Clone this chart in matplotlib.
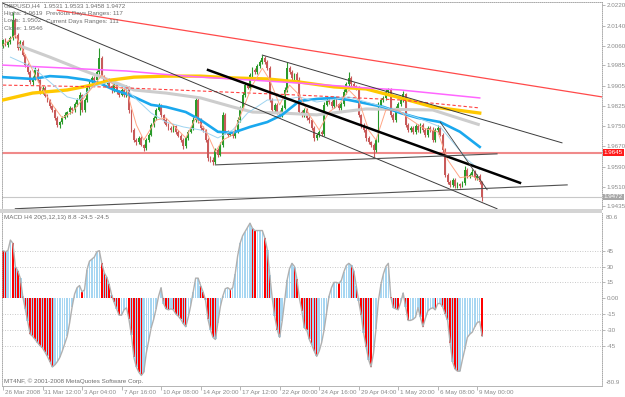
import matplotlib
matplotlib.use('Agg')
import matplotlib.pyplot as plt
import numpy as np
from matplotlib.transforms import blended_transform_factory as btf
from matplotlib.patches import Rectangle

plt.rcParams['font.family'] = ['Liberation Sans', 'DejaVu Sans']

W, H = 625, 397

# ---------------- price data (H4 bars) ----------------
first_open = 2.0060
closes = [
    2.0083, 2.0064, 2.0076, 2.0091, 2.0161, 2.0103, 2.0052, 2.0076, 2.0025, 1.9986,
    1.9959, 1.9920, 1.9936, 1.9967, 1.9928, 1.9881, 1.9897, 1.9866, 1.9850, 1.9827,
    1.9811, 1.9780, 1.9753, 1.9764, 1.9780, 1.9792, 1.9803, 1.9819, 1.9811, 1.9834,
    1.9850, 1.9869, 1.9811, 1.9850, 1.9897, 1.9920, 1.9936, 1.9928, 1.9959, 2.0013,
    1.9943, 1.9920, 1.9928, 1.9904, 1.9889, 1.9912, 1.9881, 1.9869, 1.9889, 1.9869,
    1.9897, 1.9811, 1.9733, 1.9694, 1.9687, 1.9702, 1.9675, 1.9663, 1.9694, 1.9714,
    1.9753, 1.9780, 1.9811, 1.9827, 1.9792, 1.9772, 1.9753, 1.9741, 1.9733, 1.9749,
    1.9726, 1.9710, 1.9694, 1.9671, 1.9702, 1.9726, 1.9741, 1.9772, 1.9850, 1.9772,
    1.9741, 1.9733, 1.9694, 1.9624, 1.9617, 1.9609, 1.9656, 1.9636, 1.9675, 1.9792,
    1.9726, 1.9714, 1.9722, 1.9710, 1.9726, 1.9772, 1.9819, 1.9869, 1.9908, 1.9897,
    1.9947, 1.9967, 1.9959, 1.9982, 1.9998, 2.0013, 1.9998, 1.9974, 1.9850, 1.9811,
    1.9831, 1.9803, 1.9792, 1.9819, 1.9889, 1.9974, 1.9959, 1.9936, 1.9951, 1.9928,
    1.9803, 1.9792, 1.9811, 1.9780, 1.9772, 1.9741, 1.9702, 1.9714, 1.9726, 1.9718,
    1.9831, 1.9850, 1.9842, 1.9827, 1.9850, 1.9834, 1.9819, 1.9834, 1.9881, 1.9912,
    1.9936, 1.9912, 1.9904, 1.9897, 1.9792, 1.9753, 1.9733, 1.9702, 1.9687, 1.9675,
    1.9656, 1.9694, 1.9831, 1.9850, 1.9858, 1.9881, 1.9889, 1.9792, 1.9772, 1.9819,
    1.9834, 1.9850, 1.9873, 1.9753, 1.9733, 1.9741, 1.9726, 1.9749, 1.9733, 1.9753,
    1.9733, 1.9714, 1.9741, 1.9733, 1.9694, 1.9733, 1.9741, 1.9714, 1.9656, 1.9558,
    1.9531, 1.9519, 1.9539, 1.9515, 1.9523, 1.9515, 1.9527, 1.9578, 1.9554, 1.9558,
    1.9570, 1.9547, 1.9554, 1.9531, 1.9472,
]
# wick lengths in pips above the body top / below the body bottom
wick_up = [
    6, 8, 5, 10, 31, 7, 9, 6, 8, 5, 7, 9, 6, 10, 8, 5, 9, 6, 7, 5,
    8, 6, 9, 5, 7, 10, 6, 8, 5, 9, 7, 12, 6, 8, 10, 7, 9, 6, 8, 39,
    8, 6, 9, 7, 5, 10, 6, 8, 7, 9, 12, 6, 5, 8, 7, 9, 6, 5, 8, 7,
    9, 6, 8, 10, 7, 5, 8, 6, 9, 7, 5, 8, 6, 9, 7, 8, 6, 10, 12, 7,
    6, 8, 5, 7, 6, 9, 8, 6, 10, 12, 7, 6, 8, 5, 9, 10, 8, 12, 9, 7,
    8, 10, 6, 9, 7, 12, 8, 6, 10, 7, 9, 6, 8, 10, 12, 24, 7, 9, 6, 8,
    10, 7, 9, 6, 8, 5, 7, 9, 6, 8, 12, 8, 6, 9, 7, 8, 6, 9, 10, 8,
    23, 7, 9, 6, 8, 5, 7, 6, 8, 5, 6, 9, 12, 8, 7, 10, 9, 8, 6, 9,
    7, 10, 12, 6, 8, 7, 9, 6, 8, 7, 9, 6, 8, 7, 10, 9, 12, 7, 6, 8,
    7, 9, 6, 8, 7, 5, 9, 14, 8, 7, 9, 6, 8, 7, 2,
]
wick_dn = [
    7, 5, 9, 6, 8, 10, 6, 8, 5, 9, 7, 6, 10, 8, 6, 9, 7, 5, 8, 10,
    6, 9, 7, 12, 8, 6, 9, 7, 10, 6, 8, 58, 7, 9, 6, 8, 5, 9, 7, 6,
    9, 7, 6, 8, 10, 6, 9, 7, 5, 8, 6, 10, 9, 7, 12, 8, 6, 10, 7, 8,
    6, 9, 7, 5, 8, 10, 6, 9, 7, 8, 10, 6, 9, 14, 7, 8, 6, 9, 7, 10,
    8, 6, 9, 10, 7, 12, 9, 8, 6, 10, 7, 9, 6, 8, 7, 6, 9, 7, 8, 6,
    7, 9, 6, 8, 7, 6, 9, 8, 7, 10, 6, 9, 8, 7, 6, 8, 9, 7, 10, 6,
    8, 10, 7, 9, 12, 8, 10, 7, 9, 8, 10, 6, 9, 7, 8, 6, 9, 7, 8, 6,
    7, 9, 6, 10, 8, 12, 9, 10, 8, 9, 28, 8, 7, 9, 6, 8, 7, 10, 9, 6,
    8, 7, 6, 10, 9, 7, 8, 9, 6, 10, 8, 7, 9, 6, 8, 7, 9, 6, 10, 9,
    10, 8, 9, 7, 8, 9, 6, 8, 7, 9, 6, 8, 7, 10, 14,
]

# ---------------- MACD histogram ----------------
macd = [
    45, 44, 45, 55, 52, 30, 26, 19, 2, -10,
    -22, -34, -36, -39, -42, -45, -47, -51, -55, -60,
    -65, -63, -60, -56, -50, -43, -36, -23, -8, 4,
    10, 12, 6, 8, 27, 35, 37, 39, 44, 45,
    33, 24, 20, 13, 3, -4, -10, -16, -16, -11,
    -9, -20, -35, -56, -65, -70, -73, -70, -52, -40,
    -28, -20, -10, 2, 10, -5, -10, -11, -10, -11,
    -15, -17, -20, -24, -27, -18, -7, 6, 19, 19,
    12, 6, -2, -20, -30, -37, -39, -23, -8, 2,
    9, 10, 8, 10, 23, 40, 52, 59, 63, 67,
    71, 66, 64, 64, 64, 64, 57, 46, 22, 0,
    -17, -30, -37, -22, -3, 17, 28, 33, 30, 18,
    0, -12, -28, -30, -39, -44, -50, -55, -50, -42,
    -30, -14, 2, 10, 15, 15, 14, 17, 25, 31,
    33, 31, 26, 12, -3, -16, -33, -46, -58, -65,
    -52, -29, -2, 13, 23, 30, 33, 1, -9, -10,
    -11, -4, 5, -8, -21, -21, -20, -18, -9, -18,
    -27, -19, -12, -10, -9, -11, -5, -5, -8, -15,
    -21, -42, -60, -67, -69, -69, -58, -48, -37, -34,
    -32, -27, -23, -22, -36,
]

# ---------------- moving averages (vertices: bar index, price) ----------------
salmon_x = [0, 5, 10, 15, 20, 24, 28, 32, 36, 40, 45, 50, 54, 57, 62, 66, 70, 74, 78, 82,
            86, 89, 93, 97, 101, 105, 108, 112, 116, 120, 124, 128, 132, 136, 140, 144,
            148, 151, 155, 160, 164, 170, 176, 180, 185, 190, 194]
salmon_y = [2.0064, 2.0103, 2.0006, 1.9908, 1.9831, 1.9780, 1.9803, 1.9850, 1.9897, 1.9947,
            1.9908, 1.9889, 1.9753, 1.9694, 1.9772, 1.9780, 1.9741, 1.9702, 1.9780, 1.9733,
            1.9648, 1.9694, 1.9714, 1.9811, 1.9908, 1.9974, 1.9928, 1.9831, 1.9908, 1.9869,
            1.9792, 1.9733, 1.9803, 1.9831, 1.9889, 1.9850, 1.9733, 1.9694, 1.9811, 1.9811,
            1.9780, 1.9741, 1.9726, 1.9617, 1.9547, 1.9554, 1.9531]
ltblue_x = [3, 12, 19, 26, 31, 36, 43, 49, 53, 60, 66, 73, 80, 87, 93, 99, 107, 113, 120,
            127, 140, 154, 168, 177, 188, 193]
ltblue_y = [2.0017, 1.9978, 1.9920, 1.9862, 1.9850, 1.9901, 1.9920, 1.9901, 1.9862, 1.9799,
            1.9764, 1.9745, 1.9733, 1.9702, 1.9733, 1.9799, 1.9850, 1.9850, 1.9862, 1.9842,
            1.9862, 1.9823, 1.9780, 1.9745, 1.9617, 1.9578]
blue_x = [0, 12, 19, 26, 34, 39, 45, 49, 53, 60, 66, 74, 80, 87, 93, 100, 107, 113, 120,
          127, 134, 140, 154, 161, 168, 177, 185, 193]
blue_y = [1.9939, 1.9932, 1.9943, 1.9939, 1.9928, 1.9916, 1.9889, 1.9877, 1.9862, 1.9831,
          1.9823, 1.9803, 1.9772, 1.9726, 1.9722, 1.9745, 1.9764, 1.9792, 1.9846, 1.9854,
          1.9858, 1.9850, 1.9823, 1.9799, 1.9780, 1.9764, 1.9726, 1.9667]
grey_x = [6, 19, 32, 43, 53, 66, 80, 93, 101, 113, 127, 147, 174, 193]
grey_y = [2.0064, 2.0017, 1.9967, 1.9928, 1.9889, 1.9877, 1.9858, 1.9823, 1.9803, 1.9799,
          1.9792, 1.9815, 1.9811, 1.9753]
yellow_x = [0, 12, 26, 36, 44, 53, 66, 80, 93, 107, 120, 134, 147, 161, 174, 193]
yellow_y = [1.9850, 1.9877, 1.9889, 1.9908, 1.9928, 1.9939, 1.9943, 1.9943, 1.9936, 1.9932,
            1.9920, 1.9901, 1.9893, 1.9858, 1.9823, 1.9799]
magenta_x = [0, 50, 64, 80, 93, 120, 147, 161, 193]
magenta_y = [1.9986, 1.9963, 1.9951, 1.9939, 1.9932, 1.9916, 1.9897, 1.9889, 1.9858]
reddash_x = [0, 40, 80, 120, 161, 193]
reddash_y = [1.9908, 1.9901, 1.9885, 1.9869, 1.9850, 1.9819]

# ---------------- drawn trend lines (start bar, start price, end bar, end price) ----------
red_trend = (22, 2.0200, 242.5, 1.9862)
long_trend = (0, 2.0227, 200, 1.9426)
upper_channel = (105, 2.0025, 226.3, 1.9683)
black_trend = (83, 1.9967, 209.3, 1.9527)
support_1 = (86, 1.9597, 200, 1.9640)
support_2 = (5, 1.9426, 228.4, 1.9519)
steep_trend = (177, 1.9764, 196, 1.9500)
level_red = 1.9645
last_price = 1.9472

price_ticks = [2.0220, 2.0140, 2.0060, 1.9985, 1.9905, 1.9825, 1.9750, 1.9670, 1.9590,
               1.9510, 1.9435]
macd_ticks = [45, 30, 15, 0, -15, -30, -45]
macd_tick_labels = ['45', '30', '15', '0.00', '-15', '-30', '-45']
date_bars = [0, 16, 32, 48, 64, 80, 96, 112, 128, 144, 160, 176, 192]
date_labels = ['26 Mar 2008', '31 Mar 12:00', '3 Apr 04:00', '7 Apr 16:00', '10 Apr 08:00',
               '14 Apr 20:00', '17 Apr 12:00', '22 Apr 00:00', '24 Apr 16:00', '29 Apr 04:00',
               '1 May 20:00', '6 May 08:00', '9 May 00:00']

header_lines = ['GBPUSD,H4  1.9531 1.9533 1.9458 1.9472', 'Highs: 1.9619', 'Lows: 1.9502',
                'Close: 1.9546']
range_lines = ['Previous Days Ranges: 117', 'Current Days Ranges: 111']

# ======================= drawing =======================
fig = plt.figure(figsize=(W / 100, H / 100), dpi=100)
fig.patch.set_facecolor('white')

XL = (-0.4, 242.5)
TXT = '#6e6e6e'
FS = 4.5

ax1 = fig.add_axes([2 / W, 1 - 209 / H, 600 / W, 207 / H])
ax1.set_xlim(*XL)
ax1.set_ylim(1.9425, 2.0232)

n = len(closes)
idx = np.arange(n)
c = np.array(closes)
o = np.concatenate([[first_open], c[:-1]])
hi = np.maximum(o, c) + np.array(wick_up) * 1e-4
lo = np.minimum(o, c) - np.array(wick_dn) * 1e-4
up = c >= o
cols = np.where(up, '#2a9a2a', '#c85a5a')
ax1.vlines(idx, lo, hi, colors=cols, lw=0.8, zorder=2)
ax1.bar(idx, np.abs(c - o) + 2e-5, bottom=np.minimum(o, c), width=0.75, color=cols,
        lw=0, zorder=3)

# horizontal level lines
ax1.axhline(level_red, color='#f08a8a', lw=1.5, zorder=1)
ax1.axhline(last_price, color='#c8c8c8', lw=0.8, zorder=1)

# moving averages
ax1.plot(grey_x, grey_y, color='#cdcdcd', lw=2.2, zorder=4, solid_capstyle='butt')
ax1.plot(blue_x, blue_y, color='#1aa8ee', lw=1.9, zorder=4)
ax1.plot(yellow_x, yellow_y, color='#ffc800', lw=2.4, zorder=4)
ax1.plot(magenta_x, magenta_y, color='#ff66ff', lw=1.1, zorder=4)
ax1.plot(reddash_x, reddash_y, color='#ff4040', lw=0.8, dashes=(3, 2), zorder=4)
ax1.plot(ltblue_x, ltblue_y, color='#9fd4f0', lw=0.7, zorder=4)
ax1.plot(salmon_x, salmon_y, color='#ffa585', lw=0.7, zorder=4)

# trend lines
def tline(t, **kw):
    ax1.plot([t[0], t[2]], [t[1], t[3]], zorder=5, **kw)

tline(red_trend, color='#ff4a4a', lw=0.9)
tline(long_trend, color='#3c3c3c', lw=0.7)
tline(upper_channel, color='#3c3c3c', lw=0.7)
tline(black_trend, color='black', lw=1.8)
tline(support_1, color='#505050', lw=0.8)
tline(support_2, color='#505050', lw=0.8)
tline(steep_trend, color='#404040', lw=0.6)

# axes styling
for s in ['left', 'right', 'top']:
    ax1.spines[s].set_linestyle((0, (1, 1.5)))
    ax1.spines[s].set_color('#9a9a9a')
    ax1.spines[s].set_linewidth(0.6)
ax1.spines['bottom'].set_visible(False)
ax1.set_xticks([])
ax1.yaxis.tick_right()
ax1.set_yticks(price_ticks)
ax1.set_yticklabels([f'{p:.4f}' for p in price_ticks])
ax1.tick_params(axis='y', length=2, width=0.5, colors='#9a9a9a', labelsize=FS, pad=1.5,
                labelcolor='#8a8a8a')

tr = btf(ax1.transAxes, ax1.transData)
ax1.text(1.003, level_red, '1.9645', transform=tr, fontsize=FS, color='white', va='center',
         ha='left', bbox=dict(boxstyle='square,pad=0.15', fc='#ff1a1a', ec='none'))
ax1.text(1.003, last_price, '1.9472', transform=tr, fontsize=FS, color='white', va='center',
         ha='left', bbox=dict(boxstyle='square,pad=0.15', fc='#a8a8a8', ec='none'))

# header text
for k, line in enumerate(header_lines):
    fig.text(4 / W, 1 - (6 + 7.5 * k) / H, line, fontsize=FS, color=TXT, va='center')
for k, line in enumerate(range_lines):
    fig.text(46 / W, 1 - (13.5 + 7.5 * k) / H, line, fontsize=FS, color=TXT, va='center')

# separator band
fig.patches.append(Rectangle((0, 1 - 213 / H), 602 / W, 4 / H, transform=fig.transFigure,
                             fc='#d4d4d4', ec='none'))

# ---------------- MACD panel ----------------
ax2 = fig.add_axes([2 / W, 1 - 386 / H, 600 / W, 173 / H])
ax2.set_xlim(*XL)
ax2.set_ylim(-83, 80.6)
m = np.array(macd, dtype=float)
prev = np.concatenate([[m[0] + 1], m[:-1]])
falling = m < prev
for gl in [45, 30, 15, -15, -30, -45]:
    ax2.axhline(gl, color='#b8b8b8', lw=0.6, ls=(0, (1, 2)), zorder=0)
ax2.bar(idx[falling], m[falling], width=1.0, color='#a6d6f2', lw=0, zorder=1)
ax2.bar(idx, m, width=0.58, color=np.where(falling, '#ff0000', '#a6d6f2'), lw=0, zorder=2)
ax2.plot(idx, m, color='#b0b0b0', lw=1.0, zorder=3)

for s in ['left', 'right']:
    ax2.spines[s].set_linestyle((0, (1, 1.5)))
    ax2.spines[s].set_color('#9a9a9a')
    ax2.spines[s].set_linewidth(0.6)
ax2.spines['top'].set_visible(False)
ax2.spines['bottom'].set_color('#b4b4b4')
ax2.spines['bottom'].set_linewidth(0.7)
ax2.yaxis.tick_right()
ax2.set_yticks(macd_ticks)
ax2.set_yticklabels(macd_tick_labels)
ax2.tick_params(axis='y', length=2, width=0.5, colors='#9a9a9a', labelsize=FS, pad=1.5,
                labelcolor='#8a8a8a')
ax2.set_xticks(date_bars)
ax2.set_xticklabels([])
ax2.tick_params(axis='x', length=3, width=0.5, colors='#9a9a9a')
tr2 = btf(ax2.transData, ax2.transAxes)
for b, lab in zip(date_bars, date_labels):
    ax2.text(b + 0.8, -0.035, lab, transform=tr2, fontsize=FS, color='#8a8a8a', ha='left',
             va='center')
tr3 = btf(ax2.transAxes, ax2.transData)
ax2.text(1.006, 76, '80.6', transform=tr3, fontsize=FS, color='#8a8a8a', va='center')
ax2.text(1.006, -80, '-80.9', transform=tr3, fontsize=FS, color='#8a8a8a', va='center')

fig.text(4 / W, 1 - 217.5 / H, 'MACD H4 20(5,12,13) 8.8 -24.5 -24.5', fontsize=FS,
         color=TXT, va='center')
fig.text(4 / W, 1 - 381.5 / H, 'MT4NF, \u00a9 2001-2008 MetaQuotes Software Corp.',
         fontsize=FS, color=TXT, va='center')

fig.savefig('out.png', dpi=100, facecolor='white')
